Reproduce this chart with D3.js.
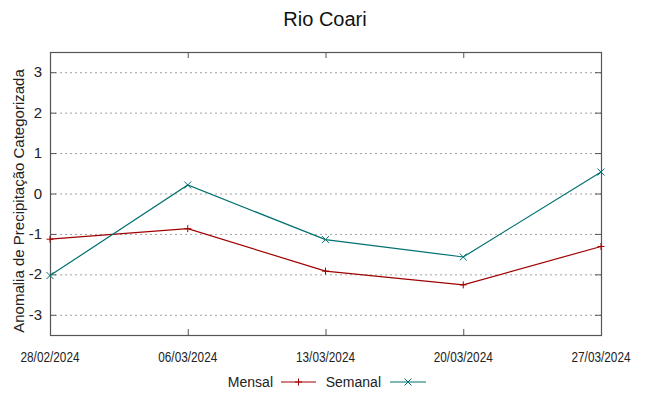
<!DOCTYPE html>
<html>
<head>
<meta charset="utf-8">
<script src="https://cdn.jsdelivr.net/npm/d3@7"></script>
<style>
body { margin: 0; background: #fff; }
svg { font-family: "Liberation Sans", Arial, sans-serif; }
</style>
</head>
<body>
<svg id="chart"></svg>
<script>
var dates = ["28/02/2024", "06/03/2024", "13/03/2024", "20/03/2024", "27/03/2024"];
var mensal = [-1.13, -0.87, -1.92, -2.26, -1.31];
var semanal = [-2.03, 0.21, -1.14, -1.57, 0.53];
var yTicks = [-3, -2, -1, 0, 1, 2, 3];

var width = 649, height = 396;
var margin = { top: 52, right: 48, bottom: 61, left: 50 };
var svg = d3.select("#chart").attr("width", width).attr("height", height);

var x = d3.scalePoint()
	.domain(dates)
	.range([margin.left, width - margin.right]);
var y = d3.scaleLinear()
	.domain([-3.5, 3.5])
	.range([height - margin.bottom, margin.top]);

// grid
svg.append("g").selectAll("line")
	.data(yTicks)
	.enter().append("line")
	.attr("x1", margin.left).attr("x2", width - margin.right)
	.attr("y1", function(d) { return y(d) + 0.5; })
	.attr("y2", function(d) { return y(d) + 0.5; })
	.attr("stroke", "#a0a0a0")
	.attr("stroke-width", 1)
	.attr("stroke-dasharray", "2,3");

// tick marks (inward, both sides)
var tickLen = 6;
var tk = svg.append("g").attr("stroke", "#555").attr("stroke-width", 1);
yTicks.forEach(function(d) {
	tk.append("line").attr("x1", margin.left).attr("x2", margin.left + tickLen)
		.attr("y1", y(d) + 0.5).attr("y2", y(d) + 0.5);
	tk.append("line").attr("x1", width - margin.right - tickLen).attr("x2", width - margin.right)
		.attr("y1", y(d) + 0.5).attr("y2", y(d) + 0.5);
});
dates.forEach(function(d) {
	tk.append("line").attr("x1", x(d) + 0.5).attr("x2", x(d) + 0.5)
		.attr("y1", height - margin.bottom).attr("y2", height - margin.bottom - tickLen);
	tk.append("line").attr("x1", x(d) + 0.5).attr("x2", x(d) + 0.5)
		.attr("y1", margin.top).attr("y2", margin.top + tickLen);
});

// tick labels
svg.append("g").selectAll("text")
	.data(yTicks)
	.enter().append("text")
	.attr("x", margin.left - 8)
	.attr("y", function(d) { return y(d) + 5; })
	.attr("text-anchor", "end")
	.attr("font-size", 15)
	.attr("fill", "#222")
	.text(function(d) { return d; });
// narrow date labels
svg.append("g").selectAll("text")
	.data(dates)
	.enter().append("text")
	.attr("x", function(d) { return x(d); })
	.attr("y", height - margin.bottom + 27)
	.attr("text-anchor", "middle")
	.attr("font-size", 14)
	.attr("textLength", 59)
	.attr("lengthAdjust", "spacingAndGlyphs")
	.attr("fill", "#222")
	.text(function(d) { return d; });

// border
svg.append("rect")
	.attr("x", margin.left + 0.5).attr("y", margin.top + 0.5)
	.attr("width", width - margin.left - margin.right)
	.attr("height", height - margin.top - margin.bottom)
	.attr("fill", "none")
	.attr("stroke", "#555")
	.attr("stroke-width", 1.2);

// title and axis label
svg.append("text")
	.attr("x", 325).attr("y", 26)
	.attr("text-anchor", "middle")
	.attr("font-size", 20)
	.attr("fill", "#111")
	.text("Rio Coari");
svg.append("text")
	.attr("transform", "translate(24,201) rotate(-90)")
	.attr("text-anchor", "middle")
	.attr("font-size", 15)
	.attr("fill", "#222")
	.text("Anomalia de Precipitação Categorizada");

var series = [
	{ name: "Mensal", values: mensal, color: "#a00000", mark: "plus" },
	{ name: "Semanal", values: semanal, color: "#007070", mark: "cross" }
];

var line = d3.line()
	.x(function(d, i) { return x(dates[i]); })
	.y(function(d) { return y(d); });

function drawMark(g, cx, cy, type, color) {
	var s = 3.5;
	if (type == "plus") {
		g.append("line").attr("x1", cx - s).attr("x2", cx + s).attr("y1", cy).attr("y2", cy).attr("stroke", color);
		g.append("line").attr("x1", cx).attr("x2", cx).attr("y1", cy - s).attr("y2", cy + s).attr("stroke", color);
	} else {
		g.append("line").attr("x1", cx - s).attr("x2", cx + s).attr("y1", cy - s).attr("y2", cy + s).attr("stroke", color);
		g.append("line").attr("x1", cx - s).attr("x2", cx + s).attr("y1", cy + s).attr("y2", cy - s).attr("stroke", color);
	}
}

series.forEach(function(s) {
	svg.append("path")
		.datum(s.values)
		.attr("d", line)
		.attr("fill", "none")
		.attr("stroke", s.color)
		.attr("stroke-width", 1.2);
	var g = svg.append("g").attr("stroke-width", 1);
	s.values.forEach(function(v, i) { drawMark(g, x(dates[i]), y(v), s.mark, s.color); });
});

// legend
var legY = 382;
var leg = [
	{ s: series[0], tx: 273, lx1: 281, lx2: 316 },
	{ s: series[1], tx: 381, lx1: 390, lx2: 426 }
];
leg.forEach(function(l) {
	svg.append("text")
		.attr("x", l.tx).attr("y", legY + 5)
		.attr("text-anchor", "end")
		.attr("font-size", 14)
		.attr("fill", "#222")
		.text(l.s.name);
	svg.append("line")
		.attr("x1", l.lx1).attr("x2", l.lx2)
		.attr("y1", legY).attr("y2", legY)
		.attr("stroke", l.s.color).attr("stroke-width", 1.2);
	var g = svg.append("g");
	drawMark(g, (l.lx1 + l.lx2) / 2, legY, l.s.mark, l.s.color);
});
</script>
</body>
</html>
